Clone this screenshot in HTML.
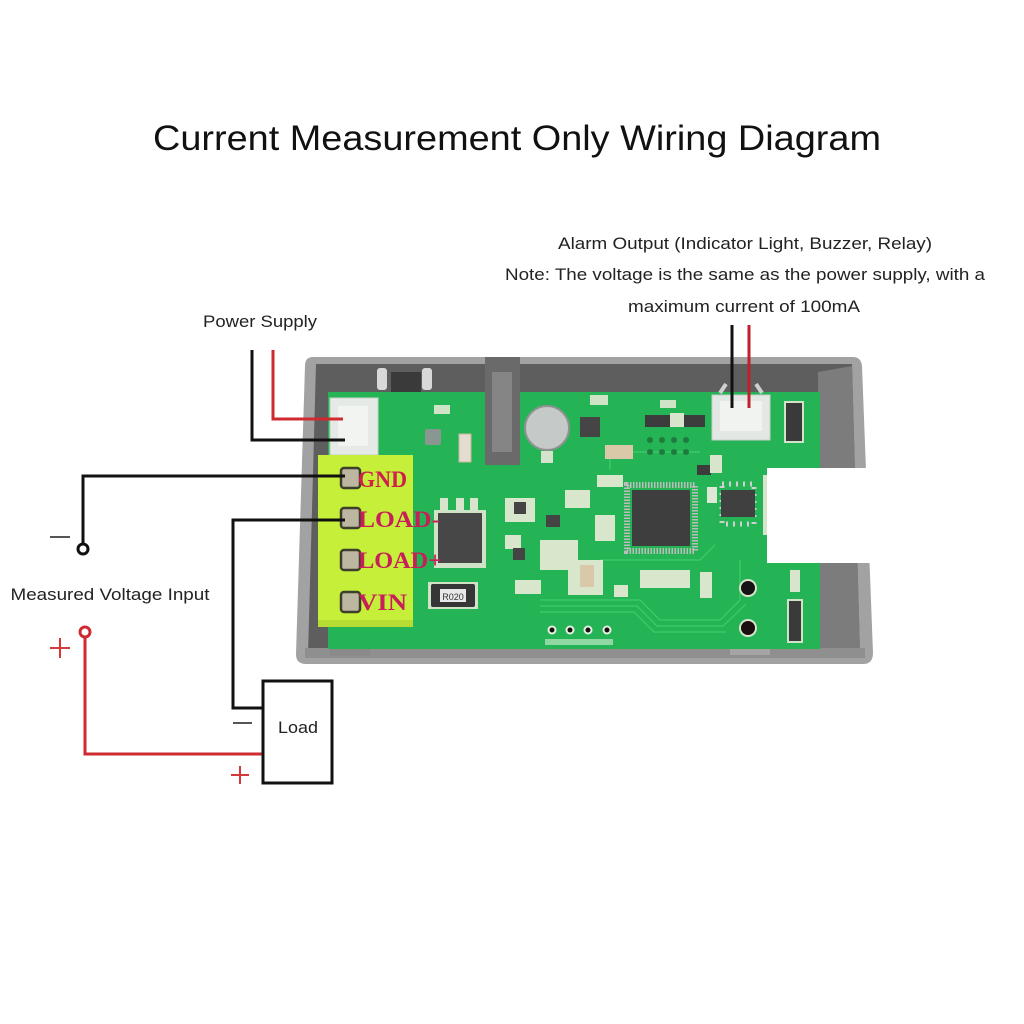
<!DOCTYPE html>
<html><head><meta charset="utf-8"><style>
html,body{margin:0;padding:0;background:#fff;}
svg{display:block;}
</style></head><body>
<svg width="1024" height="1024" viewBox="0 0 1024 1024" xmlns="http://www.w3.org/2000/svg">
<rect width="1024" height="1024" fill="#fff"/>

<!-- Title -->
<text x="517" y="150" font-family="Liberation Sans, sans-serif" font-size="35" fill="#111" text-anchor="middle" textLength="728" lengthAdjust="spacingAndGlyphs">Current Measurement Only Wiring Diagram</text>

<!-- Alarm text -->
<g font-family="Liberation Sans, sans-serif" font-size="17" fill="#222" text-anchor="middle">
<text x="745" y="249" textLength="374" lengthAdjust="spacingAndGlyphs">Alarm Output (Indicator Light, Buzzer, Relay)</text>
<text x="745" y="280" textLength="480" lengthAdjust="spacingAndGlyphs">Note: The voltage is the same as the power supply, with a</text>
<text x="744" y="312" textLength="232" lengthAdjust="spacingAndGlyphs">maximum current of 100mA</text>
<text x="260" y="327" textLength="114" lengthAdjust="spacingAndGlyphs">Power Supply</text>
<text x="110" y="600" textLength="199" lengthAdjust="spacingAndGlyphs">Measured Voltage Input</text>
</g>

<!-- Enclosure -->
<path d="M313,357 L853,357 Q861,357 862,366 L873,653 Q873,664 863,664 L306,664 Q296,664 296,654 L305,366 Q305,357 313,357 Z" fill="#a2a2a2"/>
<path d="M316,364 L852,364 L860,655 L308,655 Z" fill="#5e5e5e"/>
<!-- right inner wall -->
<path d="M818,372 L852,366 L860,650 L820,650 Z" fill="#7c7c7c"/>
<!-- bottom lip -->
<rect x="305" y="648" width="560" height="10" fill="#8f8f8f"/>
<rect x="730" y="643" width="40" height="12" fill="#a5a5a5"/>
<rect x="330" y="646" width="40" height="10" fill="#8a8a8a"/>
<!-- top wall items -->
<rect x="377" y="368" width="10" height="22" rx="3" fill="#d8d8d8"/>
<rect x="422" y="368" width="10" height="22" rx="3" fill="#d8d8d8"/>
<rect x="391" y="372" width="30" height="20" fill="#3a3a3a"/>

<!-- PCB -->
<rect x="328" y="392" width="492" height="257" fill="#25b455"/>
<!-- trace lines -->
<g fill="none" stroke="#3fcc6c" stroke-width="1.2">
<path d="M540,600 H640 L660,620 H720 L740,600 V560"/>
<path d="M540,606 H637 L657,626 H723 L746,604"/>
<path d="M540,612 H634 L654,632 H726"/>
<path d="M600,560 H700 L715,545"/>
<path d="M610,470 V452 H700"/>
</g>

<!-- Power connector -->
<rect x="330" y="398" width="48" height="57" fill="#e6eae6" stroke="#c9cfc9"/>
<rect x="338" y="406" width="30" height="40" fill="#f2f4f2"/>
<!-- gray clip -->
<rect x="485" y="357" width="35" height="108" fill="#6a6a6a"/>
<rect x="492" y="372" width="20" height="80" fill="#858585"/>
<!-- electrolytic cap -->
<circle cx="547" cy="428" r="22" fill="#c5c9c7" stroke="#8e9290" stroke-width="2"/>
<rect x="541" y="451" width="12" height="12" fill="#d4e4cc"/>
<!-- misc parts top -->
<rect x="425" y="429" width="16" height="16" rx="2" fill="#8a9690"/>
<rect x="459" y="434" width="12" height="28" fill="#e4ddcf" stroke="#c9b89a"/>
<rect x="434" y="405" width="16" height="9" fill="#cfe3c6"/>
<rect x="580" y="417" width="20" height="20" fill="#454545"/>
<rect x="590" y="395" width="18" height="10" fill="#cfe3c6"/>
<rect x="605" y="445" width="28" height="14" fill="#d9c9a8"/>
<rect x="660" y="400" width="16" height="8" fill="#cfe3c6"/>
<rect x="645" y="415" width="60" height="12" fill="#3c3c3c"/>
<rect x="670" y="413" width="14" height="14" fill="#d8e4cc"/>
<g fill="#1f7a3e">
<circle cx="650" cy="440" r="3"/><circle cx="662" cy="440" r="3"/><circle cx="674" cy="440" r="3"/><circle cx="686" cy="440" r="3"/>
<circle cx="650" cy="452" r="3"/><circle cx="662" cy="452" r="3"/><circle cx="674" cy="452" r="3"/><circle cx="686" cy="452" r="3"/>
</g>
<rect x="697" y="465" width="14" height="10" fill="#3c3c3c"/>
<rect x="710" y="455" width="12" height="18" fill="#d8e4cc"/>
<rect x="785" y="402" width="18" height="40" fill="#3a3a3a" stroke="#cfe3c6" stroke-width="2"/>
<rect x="788" y="600" width="14" height="42" fill="#3a3a3a" stroke="#cfe3c6" stroke-width="2"/>
<rect x="790" y="570" width="10" height="22" fill="#d8e4cc"/>

<!-- MOSFET -->
<rect x="440" y="498" width="8" height="14" fill="#d8e4cc"/>
<rect x="456" y="498" width="8" height="14" fill="#d8e4cc"/>
<rect x="470" y="498" width="8" height="14" fill="#d8e4cc"/>
<rect x="434" y="510" width="52" height="58" fill="#cfe3c6"/>
<rect x="438" y="513" width="44" height="50" fill="#474747"/>
<!-- Shunt R020 -->
<rect x="428" y="582" width="50" height="27" fill="#cfe3c6"/>
<rect x="431" y="584" width="44" height="23" rx="2" fill="#363636"/>
<rect x="440" y="589" width="26" height="13" fill="#e8e8e8"/>
<text x="453" y="600" font-family="Liberation Sans, sans-serif" font-size="9" fill="#333" text-anchor="middle">R020</text>

<!-- small parts middle -->
<g fill="#d8e6cc">
<rect x="505" y="498" width="30" height="24"/>
<rect x="505" y="535" width="16" height="14"/>
<rect x="565" y="490" width="25" height="18"/>
<rect x="540" y="540" width="38" height="30"/>
<rect x="568" y="560" width="35" height="35"/>
<rect x="515" y="580" width="26" height="14"/>
<rect x="595" y="515" width="20" height="26"/>
<rect x="597" y="475" width="26" height="12"/>
<rect x="580" y="580" width="14" height="12"/>
<rect x="640" y="570" width="50" height="18"/>
<rect x="700" y="572" width="12" height="26"/>
<rect x="614" y="585" width="14" height="12"/>
</g>
<rect x="514" y="502" width="12" height="12" fill="#444"/>
<rect x="546" y="515" width="14" height="12" fill="#444"/>
<rect x="513" y="548" width="12" height="12" fill="#444"/>
<rect x="580" y="565" width="14" height="22" fill="#d9c9a8"/>
<rect x="707" y="487" width="10" height="16" fill="#dfe8d6"/>

<!-- QFP -->
<rect x="627" y="485" width="68" height="66" fill="none" stroke="#bcbcbc" stroke-width="6" stroke-dasharray="1.5,1.5"/>
<rect x="632" y="490" width="58" height="56" fill="#3e3e3e"/>
<!-- SOIC -->
<rect x="722" y="484" width="32" height="40" fill="none" stroke="#cfcfcf" stroke-width="5" stroke-dasharray="2,5"/>
<rect x="721" y="490" width="34" height="27" fill="#404040"/>
<rect x="763" y="475" width="8" height="60" fill="#d8e4cc"/>

<!-- Alarm connector -->
<rect x="712" y="395" width="58" height="45" fill="#e4e8e4" stroke="#c8cec8"/>
<rect x="720" y="401" width="42" height="30" fill="#f1f3f1"/>
<path d="M720,393 L726,384 M762,393 L756,384" stroke="#cfcfcf" stroke-width="4"/>

<!-- holes -->
<circle cx="748" cy="588" r="9" fill="#d8e6cc"/><circle cx="748" cy="588" r="7" fill="#151515"/>
<circle cx="748" cy="628" r="9" fill="#d8e6cc"/><circle cx="748" cy="628" r="7" fill="#1a1010"/>
<g>
<circle cx="552" cy="630" r="4.5" fill="#e6f0e0"/><circle cx="552" cy="630" r="2.5" fill="#111"/>
<circle cx="570" cy="630" r="4.5" fill="#e6f0e0"/><circle cx="570" cy="630" r="2.5" fill="#111"/>
<circle cx="588" cy="630" r="4.5" fill="#e6f0e0"/><circle cx="588" cy="630" r="2.5" fill="#111"/>
<circle cx="607" cy="630" r="4.5" fill="#e6f0e0"/><circle cx="607" cy="630" r="2.5" fill="#111"/>
</g>
<rect x="545" y="639" width="68" height="6" fill="#8fd8a4"/>

<!-- white cover rectangle -->
<rect x="767" y="468" width="115" height="95" fill="#fff"/>

<!-- Terminal block -->
<rect x="318" y="455" width="95" height="172" fill="#c6ef3a"/>
<rect x="318" y="620" width="95" height="7" fill="#b4dc33"/>
<g fill="#bdb6a0" stroke="#3e3f2a" stroke-width="2.5">
<rect x="341" y="468" width="19" height="20" rx="3"/>
<rect x="341" y="508" width="19" height="20" rx="3"/>
<rect x="341" y="550" width="19" height="20" rx="3"/>
<rect x="341" y="592" width="19" height="20" rx="3"/>
</g>
<g font-family="Liberation Serif, serif" font-weight="bold" font-size="23" fill="#c81e5a">
<text x="358" y="487" fill="#cf1f4a" textLength="49" lengthAdjust="spacingAndGlyphs">GND</text>
<text x="358" y="527" textLength="82" lengthAdjust="spacingAndGlyphs">LOAD-</text>
<text x="358" y="568" textLength="84" lengthAdjust="spacingAndGlyphs">LOAD+</text>
<text x="358" y="610" textLength="49" lengthAdjust="spacingAndGlyphs">VIN</text>
</g>

<!-- Wires -->
<g fill="none" stroke-width="3" stroke-linejoin="miter">
<path d="M252,350 V440 H345" stroke="#111"/>
<path d="M273,350 V419 H343" stroke="#cf2a30"/>
<path d="M345,476 H83 V544" stroke="#111"/>
<path d="M345,520 H233 V708 H263" stroke="#111"/>
<path d="M85,637 V754 H263" stroke="#cf2a30"/>
<path d="M732,325 V408" stroke="#111"/>
<path d="M749,325 V408" stroke="#c0202a"/>
</g>
<circle cx="83" cy="549" r="5" fill="#fff" stroke="#111" stroke-width="3"/>
<circle cx="85" cy="632" r="5" fill="#fff" stroke="#cf2a30" stroke-width="3"/>

<!-- Load box -->
<rect x="263" y="681" width="69" height="102" fill="#fff" stroke="#111" stroke-width="3"/>
<text x="298" y="733" font-family="Liberation Sans, sans-serif" font-size="17" fill="#222" text-anchor="middle" textLength="40" lengthAdjust="spacingAndGlyphs">Load</text>

<!-- signs -->
<g stroke-width="2">
<path d="M50,537 H70" stroke="#555"/>
<path d="M50,648 H70 M60,638 V658" stroke="#d23a3a"/>
<path d="M233,723 H252" stroke="#555"/>
<path d="M231,775 H249 M240,766 V784" stroke="#d23a3a"/>
</g>
</svg>
</body></html>
